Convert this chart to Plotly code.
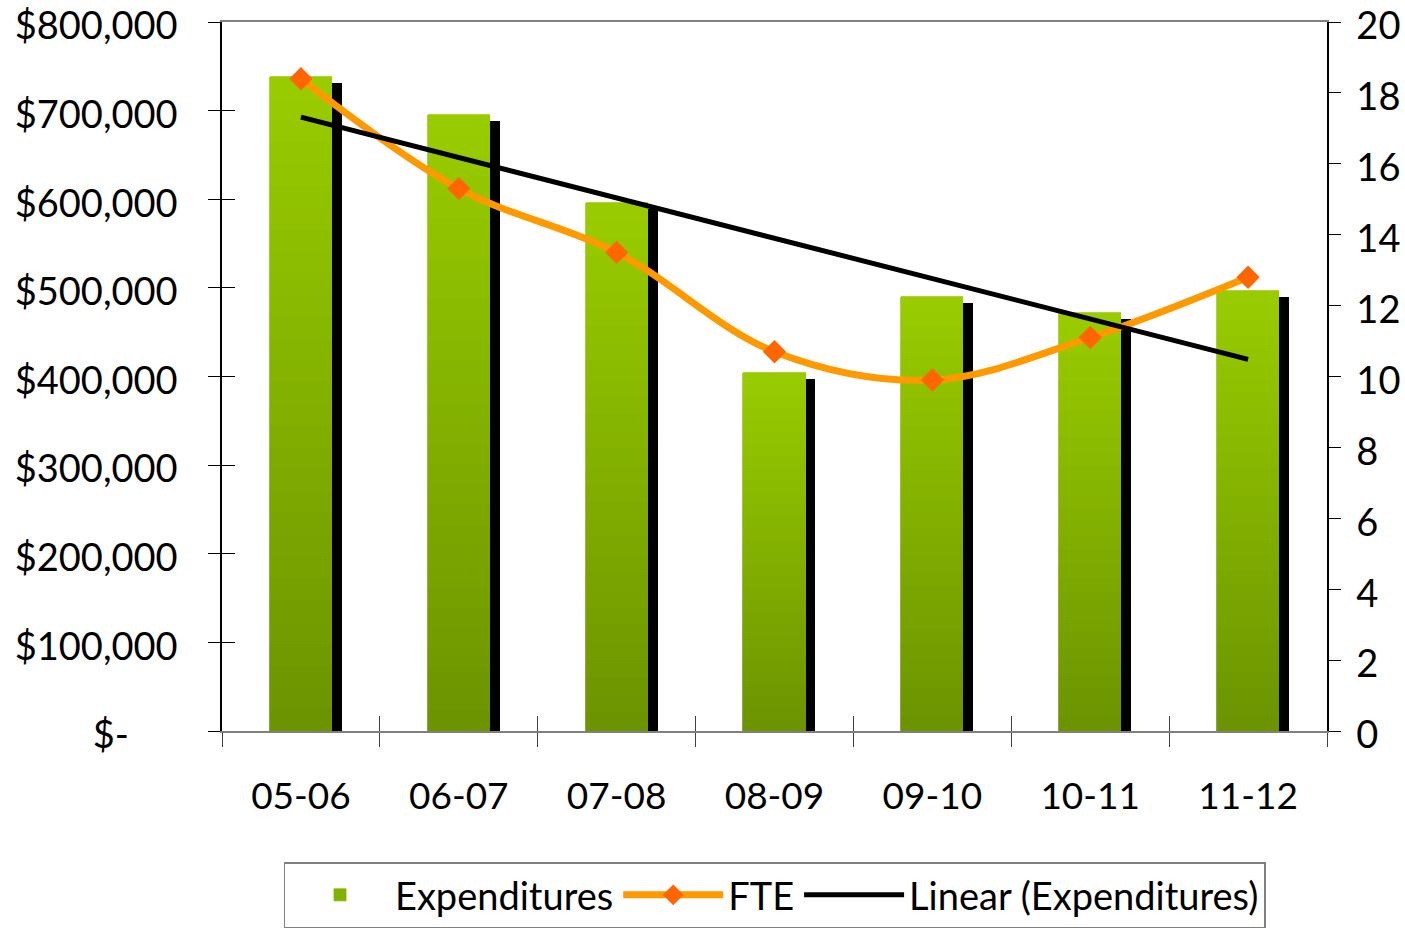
import numpy as np
import plotly.graph_objects as go

categories = ["05-06", "06-07", "07-08", "08-09", "09-10", "10-11", "11-12"]
expenditures = [738000, 695000, 596000, 404000, 490000, 472000, 497000]
fte = [18.4, 15.3, 13.5, 10.7, 9.9, 11.1, 12.8]
left_tickvals = [0, 100000, 200000, 300000, 400000, 500000, 600000, 700000, 800000]
left_ticktext = ["$-\u00a0\u00a0\u00a0\u00a0\u00a0", "$100,000", "$200,000", "$300,000", "$400,000",
                 "$500,000", "$600,000", "$700,000", "$800,000"]
right_tickvals = list(range(0, 21, 2))

# Linear trend of expenditures (least squares)
xi = np.arange(len(expenditures))
slope, intercept = np.polyfit(xi, expenditures, 1)
trend = list(slope * xi + intercept)

FONT = "Lato"
BAR_W = 0.393
SHADOW_DX = 0.063
Y_MAX = 800000
PLOT_H = 709
SHADOW_DY = 6 / PLOT_H * Y_MAX

top_c = np.array([153, 204, 0])
bot_c = np.array([108, 148, 0])
N = 30

fig = go.Figure()

# shadow bars (base layer)
fig.add_trace(go.Bar(x=categories, y=expenditures, xaxis="x", yaxis="y",
                     width=BAR_W, offset=-BAR_W / 2 + SHADOW_DX,
                     marker=dict(color="black", line=dict(width=0)),
                     showlegend=False, hoverinfo="skip"))

# gradient bars as stacked segments
for k in range(N):
    t = k / (N - 1)
    c = bot_c + (top_c - bot_c) * t
    col = "rgb(%d,%d,%d)" % tuple(c.round().astype(int))
    fig.add_trace(go.Bar(x=categories, y=[v / N for v in expenditures], xaxis="x", yaxis="y2",
                         width=BAR_W,
                         marker=dict(color=col, line=dict(width=0.8, color=col)),
                         name="Expenditures", legendgroup="exp",
                         showlegend=(k == N // 2), hoverinfo="skip"))

fig.add_trace(go.Scatter(x=categories, y=fte, xaxis="x", yaxis="y3", name="FTE",
                         mode="lines+markers", line=dict(color="#FF9900", width=7, shape="spline"),
                         marker=dict(symbol="diamond", size=18, color="#FF6600")))

fig.add_trace(go.Scatter(x=categories, y=trend, xaxis="x2", yaxis="y4", name="Linear (Expenditures)",
                         mode="lines", line=dict(color="black", width=5)))

tickfont = dict(family=FONT, size=38, color="black")

fig.update_layout(
    width=1405, height=930,
    margin=dict(l=222, r=78, t=22, b=199, autoexpand=False),
    paper_bgcolor="white", plot_bgcolor="white",
    barmode="stack", bargap=0,
    font=dict(family=FONT, color="black"),
    xaxis=dict(type="category", categoryorder="array", categoryarray=categories,
               range=[-0.5, 6.5], tickson="boundaries", ticks="outside", ticklen=14,
               tickcolor="#404040", tickwidth=1.2, automargin=False,
               showline=True, linecolor="#808080", linewidth=2, mirror=True,
               showgrid=False, tickfont=dict(family=FONT, size=37, color="black"),
               ticklabelstandoff=32),
    xaxis2=dict(type="category", categoryorder="array", categoryarray=categories,
                range=[-0.5, 6.5], overlaying="x", anchor="y", side="bottom",
                tickson="boundaries", ticks="inside", ticklen=15, automargin=False,
                tickcolor="#404040", tickwidth=1.2,
                showticklabels=False, showgrid=False, showline=False),
    yaxis=dict(range=[SHADOW_DY, Y_MAX + SHADOW_DY], visible=False, showgrid=False,
               automargin=False),
    yaxis2=dict(range=[0, Y_MAX], overlaying="y", side="left", anchor="x",
                tickvals=left_tickvals, ticktext=left_ticktext,
                ticks="outside", ticklen=12, tickcolor="black", tickwidth=1.2,
                showline=True, linecolor="black", linewidth=1.5, automargin=False,
                ticklabeloverflow="allow", ticklabelshift=4,
                showgrid=False, zeroline=False, tickfont=tickfont, ticklabelstandoff=23),
    yaxis3=dict(range=[0, 20], overlaying="y", side="right", anchor="x",
                tickvals=right_tickvals, ticks="outside", ticklen=12,
                tickcolor="black", tickwidth=1.2, automargin=False,
                ticklabeloverflow="allow", ticklabelshift=4,
                showline=True, linecolor="black", linewidth=1.5,
                showgrid=False, zeroline=False, tickfont=tickfont, ticklabelstandoff=8),
    yaxis4=dict(range=[0, Y_MAX], overlaying="y", side="left", anchor="x2",
                tickvals=left_tickvals, ticks="inside", ticklen=13, automargin=False,
                tickcolor="black", tickwidth=1.2, showticklabels=False,
                showline=False, showgrid=False, zeroline=False),
    yaxis5=dict(range=[0, 20], overlaying="y", side="right", anchor="x",
                tickvals=right_tickvals, ticks="inside", ticklen=13, automargin=False,
                tickcolor="black", tickwidth=1.2, showticklabels=False,
                showline=False, showgrid=False, zeroline=False),
    legend=dict(orientation="h", x=0.5, xanchor="center", y=-0.185, yanchor="top",
                bordercolor="#808080", borderwidth=1.5, itemwidth=100,
                font=dict(family=FONT, size=38, color="black"),
                traceorder="normal"),
)

fig.write_html("out.html", config={"displayModeBar": False},
               post_script="document.body.style.margin='0';document.body.style.overflow='hidden';")
